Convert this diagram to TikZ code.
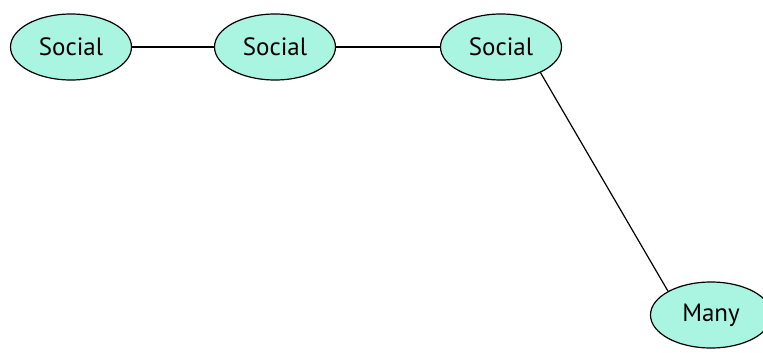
\documentclass[tikz,border=0pt]{standalone}
\usepackage{fontspec}
\setmainfont{PT Sans}
\usetikzlibrary{shapes.geometric}
\definecolor{aqua}{RGB}{170,245,225}
\tikzset{
  ent/.style={ellipse, draw=black, line width=1.2pt, fill=aqua, minimum width=121pt, minimum height=66pt, inner sep=0pt, font=\fontsize{25}{28}\selectfont},
  link/.style={draw=black, line width=1.2pt}
}
\begin{document}
\begin{tikzpicture}[x=1pt,y=-1pt]
\useasboundingbox (0,0) rectangle (763,353);
\node[ent] (s1) at (71,47) {Social};
\node[ent] (s2) at (275,47) {Social};
\node[ent] (s3) at (501,47) {Social};
\node[ent] (m) at (711,315) {Many};
\draw[link] (s1) -- (s2);
\draw[link] (s2) -- (s3);
\draw[link] (s3.-33) -- (m.151);
\end{tikzpicture}
\end{document}
